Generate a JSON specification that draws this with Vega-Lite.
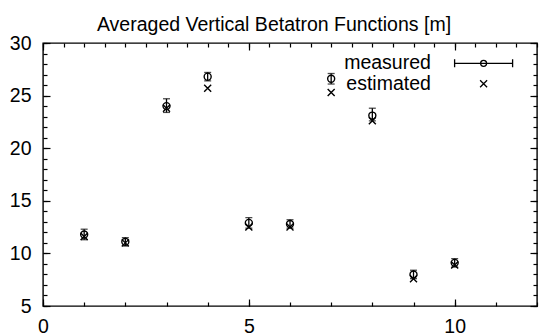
{
  "$schema": "https://vega.github.io/schema/vega-lite/v6.json",
  "width": 494,
  "height": 263,
  "autosize": "none",
  "padding": {"left": 43, "top": 43, "right": 11, "bottom": 30},
  "background": "white",
  "title": {"text": "Averaged Vertical Betatron Functions [m]", "font": "Liberation Sans", "fontSize": 19.5, "fontWeight": "normal", "color": "black", "anchor": "middle", "dx": -16, "dy": 31, "baseline": "bottom", "offset": 10},
  "datasets": {
    "meas": [
      {"x": 1, "value": 11.8, "lo": 11.3, "hi": 12.3, "series": "measured"},
      {"x": 2, "value": 11.1, "lo": 10.7, "hi": 11.5, "series": "measured"},
      {"x": 3, "value": 24.0, "lo": 23.4, "hi": 24.7, "series": "measured"},
      {"x": 4, "value": 26.8, "lo": 26.4, "hi": 27.2, "series": "measured"},
      {"x": 5, "value": 12.9, "lo": 12.4, "hi": 13.4, "series": "measured"},
      {"x": 6, "value": 12.8, "lo": 12.4, "hi": 13.2, "series": "measured"},
      {"x": 7, "value": 26.6, "lo": 26.1, "hi": 27.1, "series": "measured"},
      {"x": 8, "value": 23.1, "lo": 22.6, "hi": 23.8, "series": "measured"},
      {"x": 9, "value": 8.0, "lo": 7.6, "hi": 8.4, "series": "measured"},
      {"x": 10, "value": 9.1, "lo": 8.7, "hi": 9.5, "series": "measured"}
    ],
    "est": [
      {"x": 1, "value": 11.6, "series": "estimated"},
      {"x": 2, "value": 11.0, "series": "estimated"},
      {"x": 3, "value": 23.8, "series": "estimated"},
      {"x": 4, "value": 25.7, "series": "estimated"},
      {"x": 5, "value": 12.5, "series": "estimated"},
      {"x": 6, "value": 12.5, "series": "estimated"},
      {"x": 7, "value": 25.3, "series": "estimated"},
      {"x": 8, "value": 22.6, "series": "estimated"},
      {"x": 9, "value": 7.6, "series": "estimated"},
      {"x": 10, "value": 8.9, "series": "estimated"}
    ]
  },
  "layer": [
    {
      "layer": [
        {
          "data": {"name": "meas"},
          "mark": {"type": "rule", "color": "black", "strokeWidth": 1.3},
          "encoding": {
            "x": {"field": "x", "type": "quantitative", "scale": {"domain": [0, 12], "nice": false, "zero": false}, "axis": null},
            "y": {"field": "lo", "type": "quantitative", "scale": {"domain": [5, 30], "nice": false, "zero": false}, "axis": null},
            "y2": {"field": "hi"}
          }
        },
        {
          "data": {"name": "meas"},
          "mark": {"type": "tick", "orient": "horizontal", "color": "black", "size": 7, "thickness": 1.3},
          "encoding": {
            "x": {"field": "x", "type": "quantitative", "axis": null},
            "y": {"field": "lo", "type": "quantitative", "axis": null}
          }
        },
        {
          "data": {"name": "meas"},
          "mark": {"type": "tick", "orient": "horizontal", "color": "black", "size": 7, "thickness": 1.3},
          "encoding": {
            "x": {"field": "x", "type": "quantitative", "axis": null},
            "y": {"field": "hi", "type": "quantitative", "axis": null}
          }
        },
        {
          "data": {"name": "meas"},
          "mark": {"type": "point", "shape": "circle", "filled": false, "strokeWidth": 1.4, "size": 49, "opacity": 1},
          "encoding": {
            "x": {"field": "x", "type": "quantitative", "axis": null},
            "y": {"field": "value", "type": "quantitative", "axis": null},
            "color": {"field": "series", "type": "nominal",
              "scale": {"domain": ["measured"], "range": ["black"]},
              "legend": {"title": null, "orient": "none", "legendX": 429.6, "legendY": 9.3, "padding": 0,
                "symbolType": "M-2.9,0H2.9M-2.9,-0.4V0.4M2.9,-0.4V0.4M0.3,0A0.3,0.3 0 1 1 -0.3,0A0.3,0.3 0 1 1 0.3,0",
                "symbolSize": 400, "symbolStrokeWidth": 1.3, "symbolFillColor": "transparent", "symbolStrokeColor": "black", "symbolOpacity": 1,
                "labelAlign": "right", "labelOffset": -63.7, "labelBaseline": "middle",
                "labelFont": "Liberation Sans", "labelFontSize": 19.5, "labelColor": "black", "labelLimit": 300}}
          }
        },
        {
          "data": {"name": "est"},
          "mark": {"type": "point", "shape": "M-1,-1L1,1M-1,1L1,-1", "filled": false, "strokeWidth": 1.4, "size": 49, "opacity": 1},
          "encoding": {
            "x": {"field": "x", "type": "quantitative", "axis": null},
            "y": {"field": "value", "type": "quantitative", "axis": null},
            "stroke": {"field": "series", "type": "nominal",
              "scale": {"domain": ["estimated"], "range": ["black"]},
              "legend": {"title": null, "orient": "none", "legendX": 429.6, "legendY": 29.7, "padding": 0,
                "symbolType": "M-0.35,-0.35L0.35,0.35M-0.35,0.35L0.35,-0.35",
                "symbolSize": 400, "symbolStrokeWidth": 1.3, "symbolFillColor": "transparent", "symbolStrokeColor": "black", "symbolOpacity": 1,
                "labelAlign": "right", "labelOffset": -63.7, "labelBaseline": "middle",
                "labelFont": "Liberation Sans", "labelFontSize": 19.5, "labelColor": "black", "labelLimit": 300}}
          }
        }
      ]
    },
    {
      "data": {"name": "meas"},
      "mark": {"type": "point", "opacity": 0},
      "encoding": {
        "x": {"field": "x", "type": "quantitative", "scale": {"domain": [0, 12], "nice": false, "zero": false},
          "axis": {"orient": "bottom", "title": null, "format": "d", "values": [0,0.5,1,1.5,2,2.5,3,3.5,4,4.5,5,5.5,6,6.5,7,7.5,8,8.5,9,9.5,10,10.5,11,11.5,12],
            "tickSize": -4, "labelPadding": 15.5, "labelExpr": "datum.value % 5 === 0 ? datum.label : ''"}},
        "y": {"field": "value", "type": "quantitative", "scale": {"domain": [5, 30], "nice": false, "zero": false},
          "axis": {"orient": "left", "title": null, "format": "d", "values": [5,6,7,8,9,10,11,12,13,14,15,16,17,18,19,20,21,22,23,24,25,26,27,28,29,30],
            "tickSize": -4, "labelPadding": 16, "labelExpr": "datum.value % 5 === 0 ? datum.label : ''"}}
      }
    },
    {
      "data": {"name": "meas"},
      "mark": {"type": "point", "opacity": 0},
      "encoding": {
        "x": {"field": "x", "type": "quantitative", "scale": {"domain": [0, 12], "nice": false, "zero": false},
          "axis": {"orient": "bottom", "title": null, "labels": false, "values": [0, 5, 10], "tickSize": -7}},
        "y": {"field": "value", "type": "quantitative", "scale": {"domain": [5, 30], "nice": false, "zero": false},
          "axis": {"orient": "left", "title": null, "labels": false, "values": [5, 10, 15, 20, 25, 30], "tickSize": -7}}
      }
    },
    {
      "data": {"name": "meas"},
      "mark": {"type": "point", "opacity": 0},
      "encoding": {
        "x": {"field": "x", "type": "quantitative", "scale": {"domain": [0, 12], "nice": false, "zero": false},
          "axis": {"orient": "top", "title": null, "labels": false, "values": [0,0.5,1,1.5,2,2.5,3,3.5,4,4.5,5,5.5,6,6.5,7,7.5,8,8.5,9,9.5,10,10.5,11,11.5,12], "tickSize": -4}},
        "y": {"field": "value", "type": "quantitative", "scale": {"domain": [5, 30], "nice": false, "zero": false},
          "axis": {"orient": "right", "title": null, "labels": false, "values": [5,6,7,8,9,10,11,12,13,14,15,16,17,18,19,20,21,22,23,24,25,26,27,28,29,30], "tickSize": -4}}
      }
    },
    {
      "data": {"name": "meas"},
      "mark": {"type": "point", "opacity": 0},
      "encoding": {
        "x": {"field": "x", "type": "quantitative", "scale": {"domain": [0, 12], "nice": false, "zero": false},
          "axis": {"orient": "top", "title": null, "labels": false, "values": [0, 5, 10], "tickSize": -7}},
        "y": {"field": "value", "type": "quantitative", "scale": {"domain": [5, 30], "nice": false, "zero": false},
          "axis": {"orient": "right", "title": null, "labels": false, "values": [5, 10, 15, 20, 25, 30], "tickSize": -7}}
      }
    }
  ],
  "resolve": {"scale": {"x": "independent", "y": "independent"}},
  "config": {
    "view": {"stroke": "black", "strokeWidth": 1.4},
    "axis": {"domain": false, "grid": false, "tickColor": "black", "tickWidth": 1.2, "labelColor": "black",
      "labelFont": "Liberation Sans", "labelFontSize": 19.5, "labelFlush": false, "labelOverlap": false, "labelBound": false}
  }
}
